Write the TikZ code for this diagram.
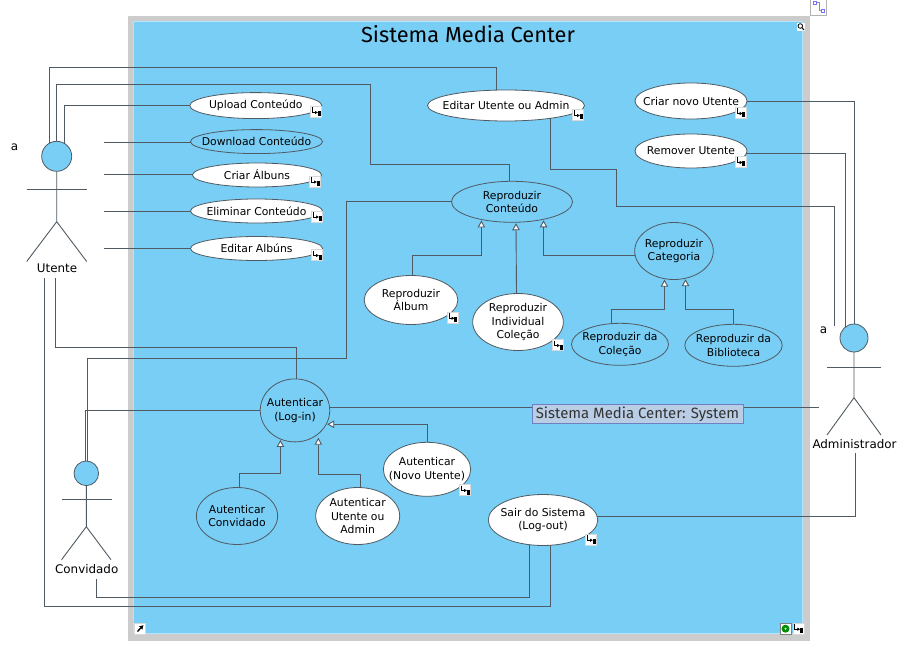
\documentclass[tikz,border=0pt]{standalone}
\usepackage{fontspec}
\setmainfont{DejaVu Sans}
\newfontfamily\titlefont{Fira Sans}
\usetikzlibrary{shapes.geometric,arrows.meta}
\definecolor{skyfill}{HTML}{79CEF5}
\definecolor{framegray}{HTML}{CCCCCC}
\definecolor{edgeline}{HTML}{4F5A62}
\definecolor{sysfill}{HTML}{B9CDE5}
\definecolor{sysline}{HTML}{6E7FC4}
\begin{document}
\begin{tikzpicture}[x=1pt,y=-1pt]
	\tikzset{
		umlline/.style={draw=edgeline,line width=0.9pt},
		genline/.style={umlline,-{Triangle[open,fill=white,length=7pt,width=7.5pt]},shorten >=1pt},
		usecase/.style={shape=ellipse,draw=edgeline,line width=0.8pt,inner sep=-40pt,outer sep=0pt,align=center,font=\fontsize{10.8}{13.4}\selectfont},
		whitecase/.style={usecase,fill=white},
		bluecase/.style={usecase,fill=skyfill},
		actorhead/.style={shape=circle,draw=edgeline,line width=0.8pt,fill=skyfill,inner sep=0pt,outer sep=0pt},
		actorname/.style={inner sep=0pt,font=\fontsize{11.9}{14}\selectfont},
		linkicon/.pic={
			\fill[white,draw=black!15,line width=0.6pt] (-5.5,-5.5) rectangle (5.5,5.5);
			\draw[black,line width=0.8pt,-{Latex[length=3pt,width=3.5pt]}] (-3.5,-4.5) -- (-3.5,0.5) -- (2,0.5);
			\fill[black] (1.5,-0.5) rectangle (4.5,4.5);
		}
	}
	\useasboundingbox (0,0) rectangle (908,666);
	\fill[framegray] (128,16) rectangle (810,640.5);
	\draw[fill=skyfill,draw=skyfill!55!white,line width=0.8pt] (133.7,21.7) rectangle (802.3,633.3);
	\node (title) at (468,34.5) [inner sep=0pt,font=\titlefont\fontsize{21.8}{26}\selectfont,text=black] {Sistema Media Center};

	\node (upload) at (255.8,105.6) [whitecase,minimum width=132pt,minimum height=26pt] {Upload Conteúdo};
	\node (download) at (256.5,141.6) [bluecase,minimum width=132pt,minimum height=24pt] {Download Conteúdo};
	\node (criaralbum) at (257,175) [whitecase,minimum width=129pt,minimum height=24pt] {Criar Álbuns};
	\node (eliminar) at (256.5,211) [whitecase,minimum width=132pt,minimum height=24pt] {Eliminar Conteúdo};
	\node (editaralbum) at (256.5,248.5) [whitecase,minimum width=132pt,minimum height=24pt] {Editar Albúns};
	\node (edituser) at (506,105.5) [whitecase,minimum width=157pt,minimum height=31pt] {Editar Utente ou Admin};
	\node (novouser) at (691,101) [whitecase,minimum width=112pt,minimum height=36pt] {Criar novo Utente};
	\node (removeuser) at (691,151) [whitecase,minimum width=112pt,minimum height=34pt] {Remover Utente};
	\node (repro) at (512,201.8) [bluecase,minimum width=121pt,minimum height=41pt] {Reproduzir\\Conteúdo};
	\node (reproalbum) at (411,300) [whitecase,minimum width=93.6pt,minimum height=49pt] {Reproduzir\\Álbum};
	\node (reproindiv) at (518,322) [whitecase,minimum width=90.7pt,minimum height=57pt] {Reproduzir\\Individual\\Coleção};
	\node (reprocat) at (674,251) [bluecase,minimum width=78.6pt,minimum height=57pt] {Reproduzir\\Categoria};
	\node (reprocolec) at (620,344.3) [bluecase,minimum width=97pt,minimum height=42pt] {Reproduzir da\\Coleção};
	\node (reprobib) at (733.5,345.3) [bluecase,minimum width=97.4pt,minimum height=42pt] {Reproduzir da\\Biblioteca};
	\node (auth) at (295,410.4) [bluecase,minimum width=69.5pt,minimum height=63pt] {Autenticar\\(Log-in)};
	\node (authguest) at (237,516) [bluecase,minimum width=81.3pt,minimum height=57pt] {Autenticar\\Convidado};
	\node (authuser) at (357.7,516) [whitecase,minimum width=84pt,minimum height=57pt] {Autenticar\\Utente ou\\Admin};
	\node (authnew) at (427,469.3) [whitecase,minimum width=87.3pt,minimum height=54pt] {Autenticar\\(Novo Utente)};
	\node (logout) at (543,520) [whitecase,minimum width=109.5pt,minimum height=51pt] {Sair do Sistema\\(Log-out)};

	\node (utentehead) at (56.7,156.3) [actorhead,minimum size=30pt] {};
	\node (adminhead) at (854,338) [actorhead,minimum size=28pt] {};
	\node (guesthead) at (86.3,473.3) [actorhead,minimum size=24.6pt] {};
	\node (utente) at (57,268.5) [actorname] {Utente};
	\node (admin) at (854.5,444) [actorname] {Administrador};
	\node (guest) at (86.7,568.7) [actorname] {Convidado};
	\node (utentea) at (14.5,147) [actorname] {a};
	\node (admina) at (823.5,330) [actorname] {a};

	\draw[umlline] (utentehead.south) -- ++(0,50.4) -- ++(-30,39.8) ++(30,-39.8) -- ++(30,39.8);
	\draw[umlline] (26.5,189.5) -- (86.5,189.5);
	\draw[umlline] (adminhead.south) -- ++(0,45.7) -- ++(-27,37.3) ++(27,-37.3) -- ++(27,37.3);
	\draw[umlline] (827,367.3) -- (881,367.3);
	\draw[umlline] (guesthead.south) -- ++(0,41.1) -- ++(-24.7,33) ++(24.7,-33) -- ++(24.7,33);
	\draw[umlline] (62.3,499.3) -- (111.7,499.3);

	\coordinate (utenteb) at (44.3,278);
	\coordinate (utentec) at (55,278);
	\coordinate (guestb) at (96.3,578.7);
	\coordinate (adminb) at (855.7,453.3);
	\coordinate (adminc) at (834.5,326);
	\coordinate (adminl) at (819,407.5);
	\coordinate (dlfree) at (104.3,142.3);
	\coordinate (albfree) at (104.3,174.3);
	\coordinate (elimfree) at (104.3,211.3);
	\coordinate (editfree) at (104.3,248.3);

	\draw[umlline] (utentehead.119) |- (200,67.5) -| (edituser.123);
	\draw[umlline] (utentehead.north) |- (370.5,84.3) -- (370.5,164.3) -| (repro.98);
	\draw[umlline] (utentehead.61) |- (upload.west);
	\draw[umlline] (dlfree) -- (dlfree -| download.west);
	\draw[umlline] (albfree) -- (albfree -| criaralbum.west);
	\draw[umlline] (elimfree) -- (elimfree -| eliminar.west);
	\draw[umlline] (editfree) -- (editfree -| editaralbum.west);
	\draw[umlline] (edituser.344) |- (616.5,169.3) -- (616.5,206.3) -| (adminc);
	\draw[umlline] (novouser.east) -| (adminhead.north);
	\draw[umlline] (removeuser.-3) -| (adminhead.130);
	\draw[umlline] (repro.west) -| (346.5,358.3) -| (guesthead.85);
	\draw[umlline] (utentec) |- (200,347.3) -| (auth.88);
	\draw[umlline] (auth.west) -| (guesthead.95);
	\draw[umlline] (auth.5) -- (auth.5 -| adminl);
	\draw[umlline] (logout.4) -| (adminb);
	\draw[umlline] (logout.242) |- (96.3,597.3) -- (guestb);
	\draw[umlline] (logout.287) |- (44.3,606.3) -- (utenteb);

	\draw[genline] (reproalbum.87) |- (450,255.3) -| (repro.210);
	\draw[genline] (reproindiv.93) -- (repro.281);
	\draw[genline] (reprocat.186) -| (repro.331);
	\draw[genline] (reprocolec.112) |- (640,309.3) -| (reprocat.251);
	\draw[genline] (reprobib.north) |- (700,309.3) -| (reprocat.293);
	\draw[genline] (authguest.85) |- (260,473.7) -| (auth.243);
	\draw[genline,shorten >=4pt] (authuser.85) |- (340,474.7) -| (auth.315);
	\draw[genline] (authnew.88) |- (auth.-24);

	\node (sysbox) at (637.5,414) [draw=sysline,line width=0.7pt,fill=sysfill,inner sep=0pt,minimum width=211pt,minimum height=18.5pt,text=black!80,font=\titlefont\fontsize{14.9}{17}\selectfont] {Sistema Media Center: System};

	\foreach \ix/\iy in {316/112,315/181.5,317/216.5,317/255,578/115,740.7/113,740.7/162,452.5/317.7,558/345,465/490,591/539.7,798.3/628.7}
		\pic at (\ix,\iy) {linkicon};

	\fill[white,draw=black!15,line width=0.6pt] (134.5,623) rectangle (145.5,634);
	\draw[black,line width=1.3pt,-{Latex[length=4pt,width=5pt]}] (137.5,631.5) -- (143.5,625);
	\fill[white,draw=black!50,line width=0.6pt] (780,623.2) rectangle (791,634.2);
	\fill[green!55!black] (785.5,628.7) circle (4);
	\fill[green!20!white] (785.5,628.7) circle (1.2);
	\fill[white] (796.6,22.8) rectangle (804.6,30.6);
	\draw[black,line width=0.8pt] (800.3,26) circle (2.3);
	\draw[black,line width=1pt] (802,27.7) -- (804,30);
	\draw[black!30,line width=0.7pt,fill=white] (810.7,-1) rectangle (826.7,15);
	\draw[black!45,line width=1pt] (816,3) -- (819,3) -- (819,11) -- (822,11);
	\draw[blue!55!white,fill=white,line width=0.6pt] (813.5,1) rectangle (816.5,4);
	\draw[blue!55!white,fill=white,line width=0.6pt] (821.5,9.5) rectangle (824.5,12.5);
\end{tikzpicture}
\end{document}
